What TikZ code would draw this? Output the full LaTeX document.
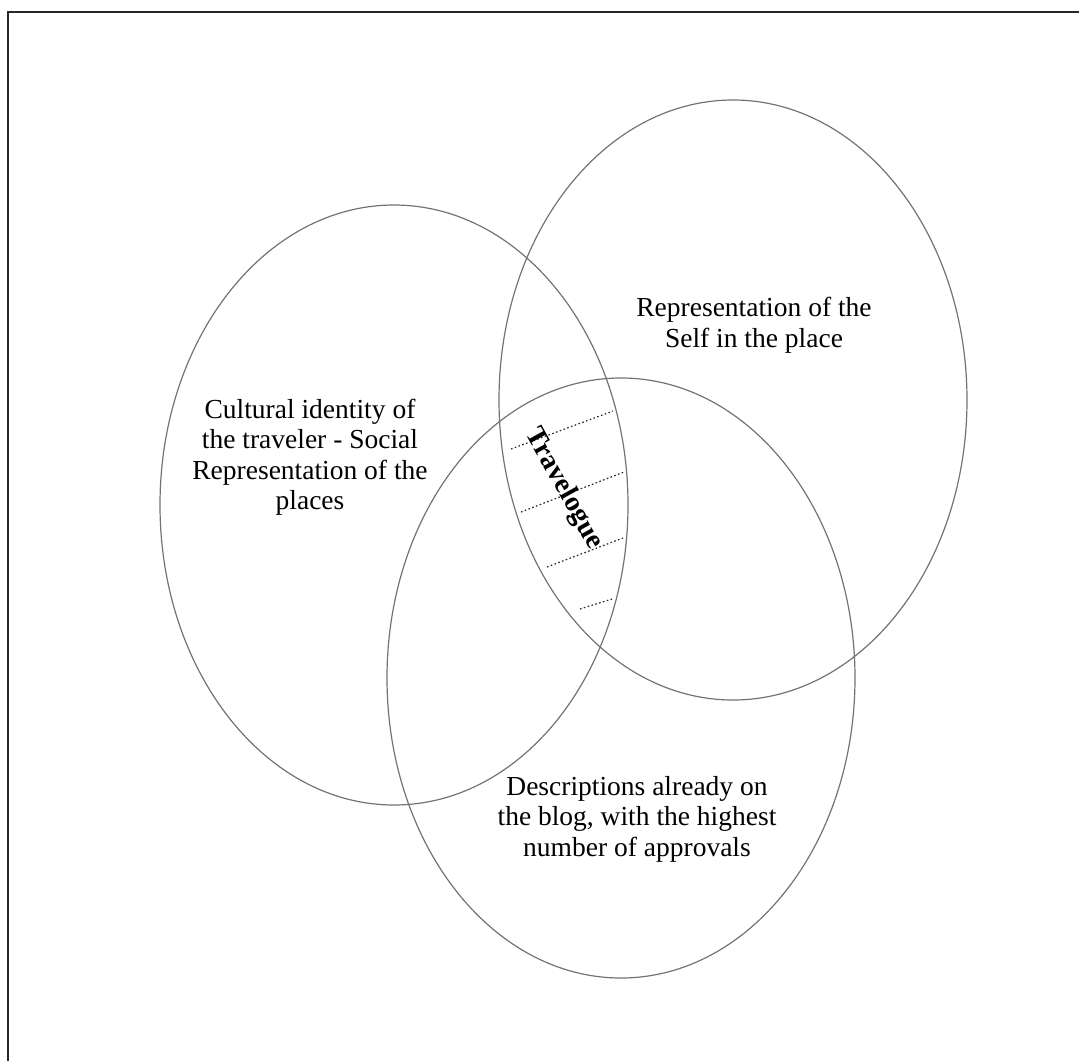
\documentclass[tikz,border=0pt]{standalone}
\usepackage{fontspec}
\setmainfont{Liberation Serif}
\usepackage{tikz}
\usetikzlibrary{shapes.geometric}

\begin{document}
\begin{tikzpicture}[x=1pt, y=-1pt,
  set/.style={draw=black!55, line width=1.2pt, ellipse, inner sep=0pt,
    minimum width=468pt, minimum height=600pt},
  lbl/.style={align=center, font=\fontsize{27.5}{30.5}\selectfont, text=black},
  hatch/.style={draw=black!85, line width=1.2pt, dash pattern=on 1.6pt off 2.4pt}]
  \useasboundingbox (0,0) rectangle (1079,1061);
  \draw[line width=1.3pt, black!85] (1079,12) -- (8,12) -- (8,1061);
  % the three sets
  \node[set] (culture) at (394,505) {};
  \node[set] (self) at (733,400) {};
  \node[set] (blog) at (621,678) {};
  % labels
  \node[lbl] (culturetxt) at (310,457) {Cultural identity of\\the traveler - Social\\Representation of the\\places};
  \node[lbl] (selftxt) at (754,325) {Representation of the\\Self in the place};
  \node[lbl] (blogtxt) at (637,819) {Descriptions already on\\the blog, with the highest\\number of approvals};
  % hatching in the common part
  \draw[hatch] (511,449) -- (613,411);
  \draw[hatch] (521,512) -- (624,472);
  \draw[hatch] (547,567) -- (623,538);
  \draw[hatch] (580,609) -- (612,599);
  \node[lbl, font=\fontsize{28}{30.5}\selectfont\bfseries, rotate=-61] (travel) at (564,489) {Travelogue};
\end{tikzpicture}
\end{document}
